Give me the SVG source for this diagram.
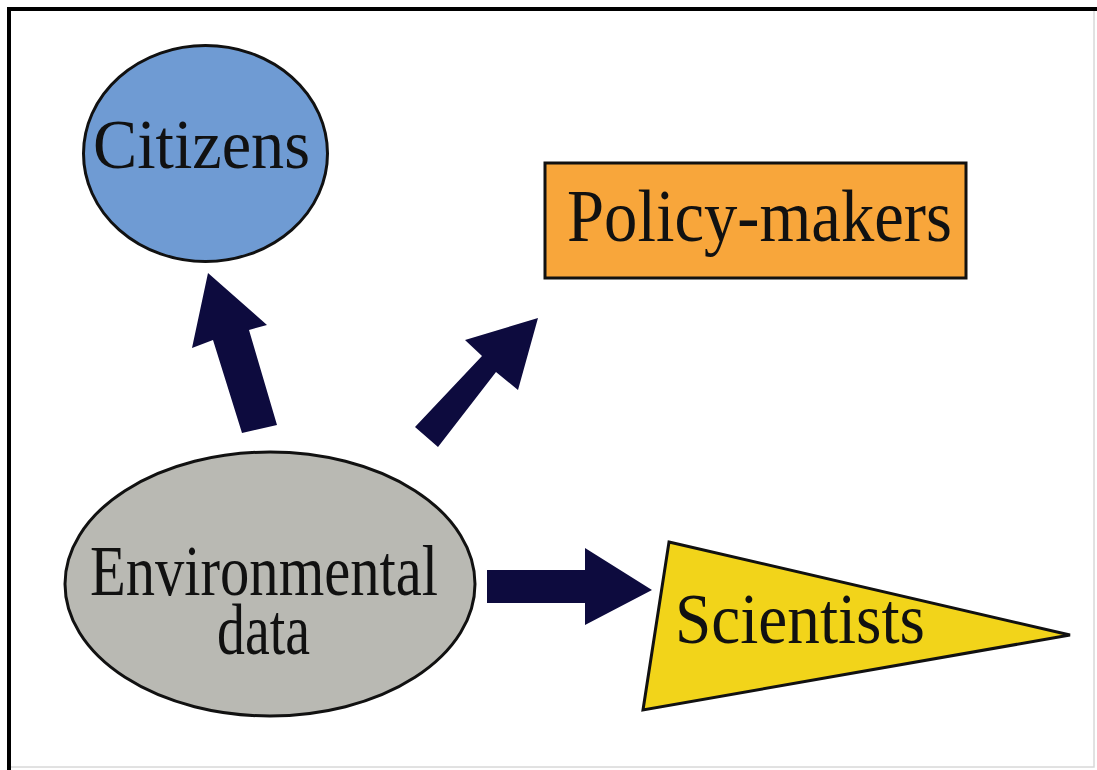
<svg xmlns="http://www.w3.org/2000/svg" width="1097" height="770" viewBox="0 0 1097 770">
<style>
.lbl{font-family:"Liberation Serif","Times New Roman",serif;fill:#111;}
.shape{stroke:#111;stroke-width:3;}
.arrow{fill:#0d0b3e;}
</style>
<rect x="0" y="0" width="1097" height="770" fill="#ffffff"/>
<rect x="9" y="9" width="1085" height="758" fill="none" stroke="#d8d8d8" stroke-width="1.5"/>
<line x1="7" y1="9" x2="1097" y2="9" stroke="#000" stroke-width="4"/>
<line x1="9" y1="7" x2="9" y2="770" stroke="#000" stroke-width="4"/>
<g id="citizens">
<ellipse class="shape" cx="205.5" cy="153.5" rx="122" ry="108" fill="#6f9bd3"/>
<text class="lbl" x="93" y="168" font-size="70" textLength="217" lengthAdjust="spacingAndGlyphs" fill="#141a3a">Citizens</text>
</g>
<g id="policy-makers">
<rect class="shape" x="545" y="163" width="421" height="115" fill="#f8a63b"/>
<text class="lbl" x="567" y="241" font-size="74" textLength="385" lengthAdjust="spacingAndGlyphs">Policy-makers</text>
</g>
<g id="environmental-data">
<ellipse class="shape" cx="270" cy="584" rx="205" ry="132" fill="#b9b9b3"/>
<text class="lbl" font-size="72"><tspan x="90" y="595" textLength="348" lengthAdjust="spacingAndGlyphs">Environmental</tspan><tspan x="217" y="654" textLength="93" lengthAdjust="spacingAndGlyphs">data</tspan></text>
</g>
<g id="scientists">
<polygon class="shape" points="669,542 1070,635 643,710" fill="#f2d41a" stroke-linejoin="miter"/>
<text class="lbl" x="675" y="643" font-size="72" textLength="250" lengthAdjust="spacingAndGlyphs">Scientists</text>
</g>
<g id="connectors">
<polygon class="arrow" points="242,433 277,425 249,330 267,325 208,273 192,348 213,340"/>
<polygon class="arrow" points="415,427 438,447 496,372 518,390 538,318 465,340 482,356"/>
<polygon class="arrow" points="487,570 585,570 585,548 652,590 585,625 585,603 487,603"/>
</g>
</svg>
